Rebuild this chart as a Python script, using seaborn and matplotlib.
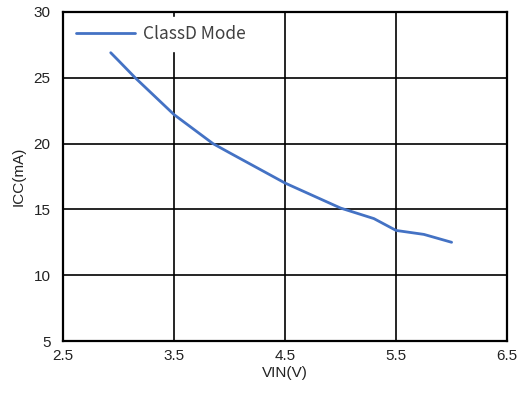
import matplotlib
matplotlib.use("Agg")
import matplotlib.pyplot as plt
import seaborn as sns
import pandas as pd

# Supply current versus input voltage in Class-D mode
vin = [2.93, 3.0, 3.15, 3.5, 3.85, 4.0, 4.5, 5.0, 5.3, 5.5, 5.75, 6.0]
icc = [26.9, 26.3, 25.0, 22.2, 20.0, 19.3, 17.0, 15.1, 14.3, 13.4, 13.1, 12.5]
series_name = "ClassD Mode"
x_ticks = [2.5, 3.5, 4.5, 5.5, 6.5]
y_ticks = [5, 10, 15, 20, 25, 30]

df = pd.DataFrame({"VIN": vin, "ICC": icc, "mode": series_name})

sns.set_style("white")
plt.rcParams["font.family"] = ["Liberation Sans", "DejaVu Sans"]

fig = plt.figure(figsize=(5.18, 3.97), dpi=100)
ax = fig.add_axes([0.1216, 0.141, 0.8574, 0.829])

sns.lineplot(data=df, x="VIN", y="ICC", hue="mode", palette=["#4472C4"],
             linewidth=2.0, ax=ax, zorder=5)

ax.set_xlim(2.5, 6.5)
ax.set_ylim(5, 30)
ax.set_xticks(x_ticks)
ax.set_xticklabels([f"{t:g}" for t in x_ticks])
ax.set_yticks(y_ticks)
ax.grid(True, color="black", linewidth=1.2)
ax.set_axisbelow(True)
ax.tick_params(axis="both", length=0, labelsize=11, colors="#222222")
ax.tick_params(axis="y", pad=9)
ax.tick_params(axis="x", pad=6)
for side in ["left", "right", "top", "bottom"]:
    ax.spines[side].set_visible(True)
    ax.spines[side].set_color("black")
    ax.spines[side].set_linewidth(1.6)
    ax.spines[side].set_zorder(6)

ax.set_xlabel("VIN(V)", fontsize=11, labelpad=2, color="#222222")
ax.set_ylabel("ICC(mA)", fontsize=11, labelpad=6, color="#222222")

leg = ax.legend(loc="upper left", frameon=True, fancybox=False,
                handlelength=3.4, handletextpad=0.45, borderpad=0.45,
                borderaxespad=0.3,
                prop={"family": ["Noto Sans CJK SC", "DejaVu Sans"], "size": 12.5})
leg.get_frame().set_facecolor("white")
leg.get_frame().set_edgecolor("white")
leg.get_frame().set_alpha(1.0)
leg.set_zorder(4)
leg.set_title(None)
for t in leg.get_texts():
    t.set_color("#404040")

fig.savefig("out.png", dpi=100)
